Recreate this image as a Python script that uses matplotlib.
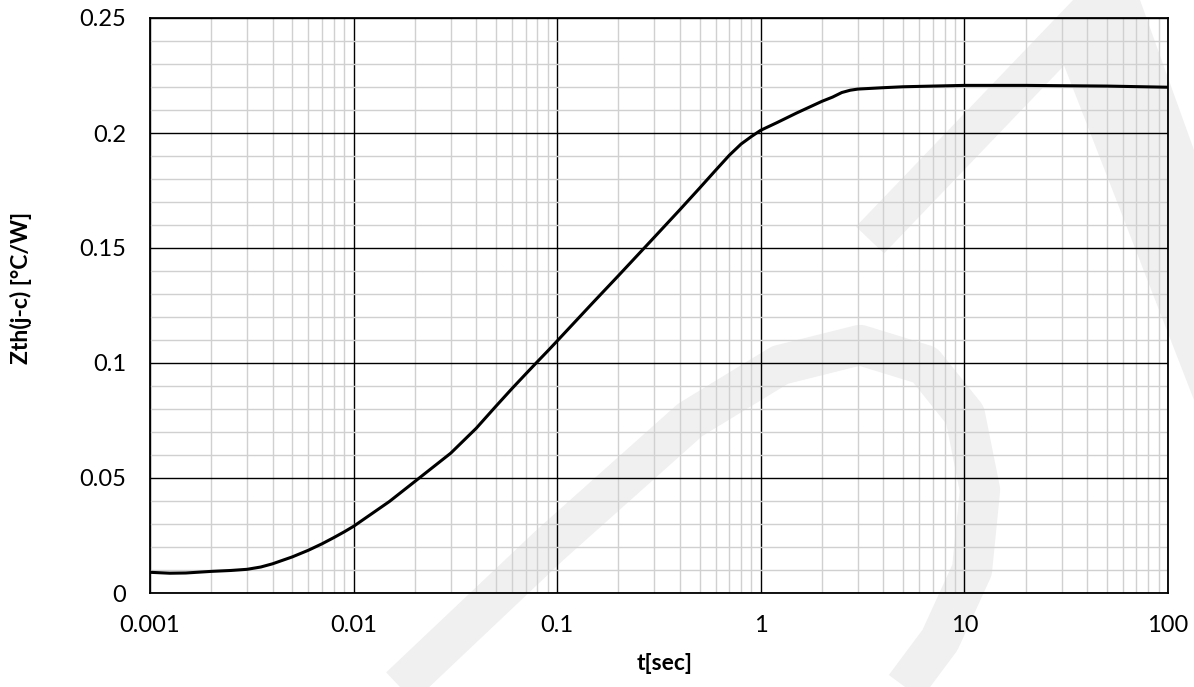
import matplotlib
matplotlib.use("Agg")
import matplotlib.pyplot as plt
from matplotlib.lines import Line2D
from matplotlib.patches import Polygon
from matplotlib.ticker import LogLocator, MultipleLocator, FuncFormatter, NullFormatter

# transient thermal impedance, junction to case
t_sec = [0.001, 0.00125, 0.0015, 0.002, 0.0025, 0.003, 0.0035, 0.004, 0.005, 0.006,
         0.007, 0.008, 0.009, 0.01, 0.015, 0.02, 0.03, 0.04, 0.05, 0.06, 0.07,
         0.08, 0.09, 0.1, 0.15, 0.2, 0.3, 0.4, 0.5, 0.6, 0.7, 0.8, 0.9,
         1.0, 1.2, 1.5, 2.0, 2.25, 2.5, 2.75, 3.0, 4.0, 5.0, 7.0, 10.0, 20.0, 50.0, 100.0]
zth = [0.0090, 0.0086, 0.0087, 0.0094, 0.0098, 0.0103, 0.0113, 0.0127, 0.0157, 0.0186,
       0.0214, 0.0241, 0.0266, 0.0290, 0.0398, 0.0485, 0.0608, 0.0716, 0.0812, 0.0889, 0.0952,
       0.1006, 0.1053, 0.1096, 0.1263, 0.1380, 0.1547, 0.1666, 0.1760, 0.1838, 0.1903,
       0.1952, 0.1985, 0.2012, 0.2045, 0.2087, 0.2138, 0.2156, 0.2176, 0.2186, 0.2191,
       0.2197, 0.2201, 0.2204, 0.2207, 0.2207, 0.2204, 0.2199]

W, H = 1194, 687
fig = plt.figure(figsize=(W / 100, H / 100), dpi=100)
fig.patch.set_facecolor("white")
ax = fig.add_axes([150 / W, 1 - 593 / H, 1018 / W, 575 / H])
ax.patch.set_alpha(0)

# faint background watermark, in pixel units of the canvas
def px(pts):
    return [p[0] / W for p in pts], [1 - p[1] / H for p in pts]

wm = "#f0f0f0"
bowl = [(400, 687), (550, 545), (690, 420), (780, 365), (860, 345), (925, 365),
        (965, 415), (980, 490), (972, 570), (940, 640), (905, 687)]
xs, ys = px(bowl)
fig.add_artist(Line2D(xs, ys, transform=fig.transFigure, color=wm, lw=29,
                      solid_joinstyle="round", solid_capstyle="butt", zorder=-1))
xs, ys = px([(1100, 0), (870, 240)])
fig.add_artist(Line2D(xs, ys, transform=fig.transFigure, color=wm, lw=28,
                      solid_capstyle="butt", zorder=-1))
xs, ys = px([(1100, 0), (1140, 0), (1194, 150), (1194, 400), (1060, 55)])
fig.add_artist(Polygon(list(zip(xs, ys)), closed=True, transform=fig.transFigure,
                       facecolor=wm, edgecolor="none", zorder=-1))

ax.plot(t_sec, zth, color="black", lw=2.2, solid_joinstyle="round", zorder=5)

ax.set_xscale("log")
ax.set_xlim(0.001, 100)
ax.set_ylim(0, 0.25)
ax.xaxis.set_major_locator(LogLocator(base=10))
ax.xaxis.set_minor_locator(LogLocator(base=10, subs=range(2, 10)))
ax.xaxis.set_minor_formatter(NullFormatter())
ax.yaxis.set_major_locator(MultipleLocator(0.05))
ax.yaxis.set_minor_locator(MultipleLocator(0.01))
fmt = FuncFormatter(lambda v, pos: "%g" % v)
ax.xaxis.set_major_formatter(fmt)
ax.yaxis.set_major_formatter(fmt)

ax.grid(which="minor", color="#d0d0d0", lw=1.0)
ax.grid(which="major", color="black", lw=1.0)
ax.set_axisbelow(True)
for s in ax.spines.values():
    s.set_linewidth(1.3)
    s.set_color("black")

ax.tick_params(which="both", length=0)
ax.tick_params(axis="x", pad=16, labelsize=17)
ax.tick_params(axis="y", pad=17, labelsize=17)
for lab in ax.get_xticklabels() + ax.get_yticklabels():
    lab.set_fontfamily("Lato")

ax.set_xlabel("t[sec]", fontfamily="Lato", fontweight="bold", fontsize=16.5)
ax.set_ylabel("Zth(j-c) [°C/W]", fontfamily="Lato", fontweight="bold", fontsize=16.5)
ax.xaxis.set_label_coords(0.506, -0.105)
ax.yaxis.set_label_coords(-0.116, 0.53)

fig.savefig("out.png", dpi=100)
